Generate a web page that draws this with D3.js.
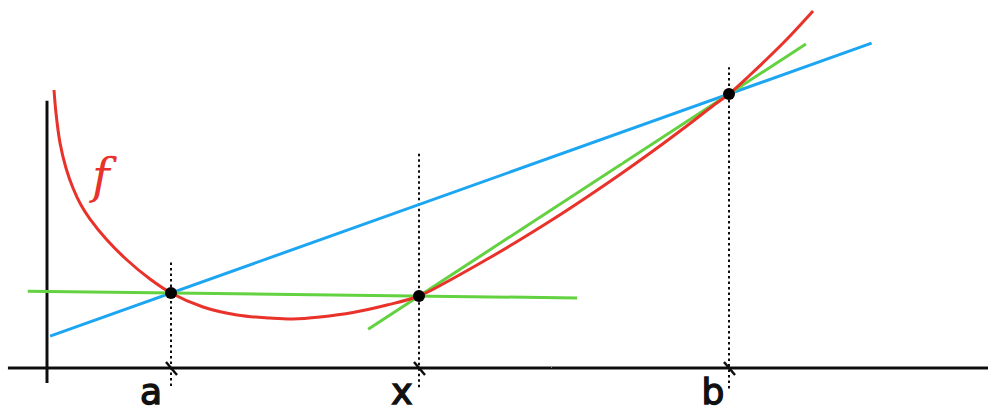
<!DOCTYPE html>
<html><head><meta charset="utf-8">
<script src="https://cdn.jsdelivr.net/npm/d3@7"></script>
<style>html,body{margin:0;padding:0;background:#fff;overflow:hidden}</style>
</head><body>
<svg id="chart" width="988" height="414"></svg>
<script>
// ---- data (in chart units) ----
const curveX = [0.113,0.145,0.210,0.306,0.419,0.548,0.694,0.968,1.290,1.661,2.0,2.516,3.065,3.597,3.968,
  4.403,4.935,5.484,6.0,6.548,7.097,7.629,8.161,8.710,9.242,9.774,10.323,10.742,11.0,11.339,11.661,11.984,12.355];
const curveY = [4.484,4.113,3.629,3.226,2.903,2.629,2.403,2.065,1.742,1.435,1.21,0.984,0.855,0.806,0.790,
  0.823,0.895,1.016,1.161,1.444,1.753,2.068,2.398,2.758,3.121,3.500,3.908,4.229,4.419,4.726,5.032,5.355,5.758];
const pointNames = ["a","x","b"];
const pointX = [2, 6, 11];
const pointY = [1.21, 1.161, 4.419];
const guideTop = [1.71, 3.48, 4.85];
const guideBottom = [-0.29, -0.31, -0.33];
const labelOffsetPx = [-20, -17, -16];
// secant segments: from point index, to point index, x start, x end
const secantNames = ["ab","ax","xb"];
const secantFrom = [0, 0, 1];
const secantTo = [2, 1, 2];
const secantStart = [0.05, -0.31, 5.18];
const secantEnd = [13.3, 8.55, 12.24];
const secantColor = ["#1ea6f2", "#63d23f", "#63d23f"];
const xAxisExtent = [-0.63, 15.2];
const yAxisExtent = [-0.24, 4.31];

const svg = d3.select("#chart");
const x = d3.scaleLinear().domain([0, 15]).range([47, 977]);
const y = d3.scaleLinear().domain([0, 6]).range([368, -4]);

// rough "hand drawn" filter
const defs = svg.append("defs");
const f = defs.append("filter").attr("id","rough").attr("x","-5%").attr("y","-5%").attr("width","110%").attr("height","110%");
f.append("feTurbulence").attr("type","fractalNoise").attr("baseFrequency","1.2").attr("numOctaves",1).attr("seed",3).attr("result","n");
f.append("feDisplacementMap").attr("in","SourceGraphic").attr("in2","n").attr("scale",1.6).attr("xChannelSelector","R").attr("yChannelSelector","G");

const g = svg.append("g").attr("filter","url(#rough)");
const line = d3.line().x(d=>x(d[0])).y(d=>y(d[1]));

// axes
g.append("path").attr("d", line([[xAxisExtent[0],0],[xAxisExtent[1],0]]))
  .attr("stroke","#111").attr("stroke-width",3).attr("fill","none");
g.append("path").attr("d", line([[0,yAxisExtent[0]],[0,yAxisExtent[1]]]))
  .attr("stroke","#111").attr("stroke-width",3).attr("fill","none");

// dotted guides
pointX.forEach((px,i)=>{
  g.append("path").attr("d", line([[px,guideBottom[i]],[px,guideTop[i]]]))
    .attr("stroke","#111").attr("stroke-width",2).attr("stroke-dasharray","2.5,3").attr("fill","none");
  g.append("line")
    .attr("x1", x(px)-5).attr("y1", y(0)-6).attr("x2", x(px)+6).attr("y2", y(0)+7)
    .attr("stroke","#111").attr("stroke-width",2.5);
});

// secants
secantNames.forEach((nm,i)=>{
  const p0=[pointX[secantFrom[i]],pointY[secantFrom[i]]], p1=[pointX[secantTo[i]],pointY[secantTo[i]]];
  const m=(p1[1]-p0[1])/(p1[0]-p0[0]);
  const yy=t=>p0[1]+m*(t-p0[0]);
  g.append("path").attr("d", line([[secantStart[i],yy(secantStart[i])],[secantEnd[i],yy(secantEnd[i])]]))
    .attr("stroke",secantColor[i]).attr("stroke-width",3).attr("fill","none");
});

// function curve
const curvePts = curveX.map((v,i)=>[v, curveY[i]]);
g.append("path").attr("d", d3.line().x(d=>x(d[0])).y(d=>y(d[1])).curve(d3.curveCatmullRom.alpha(0.5))(curvePts))
  .attr("stroke","#e8322b").attr("stroke-width",3).attr("fill","none");

// points
pointX.forEach((px,i)=>{
  svg.append("circle").attr("cx",x(px)).attr("cy",y(pointY[i])).attr("r",6).attr("fill","#000");
});

// labels
pointNames.forEach((nm,i)=>{
  svg.append("text").attr("x", x(pointX[i])+labelOffsetPx[i]).attr("y", 404)
    .attr("text-anchor","middle").attr("font-family","DejaVu Sans, sans-serif")
    .attr("font-size",36).attr("fill","#111").attr("stroke","#111").attr("stroke-width",1.4).text(nm);
});
svg.append("text").attr("x", 101).attr("y", 193).attr("text-anchor","middle")
  .attr("font-family","DejaVu Serif, serif").attr("font-style","italic")
  .attr("font-size",48).attr("fill","#e8322b").text("f");
</script>
</body></html>
